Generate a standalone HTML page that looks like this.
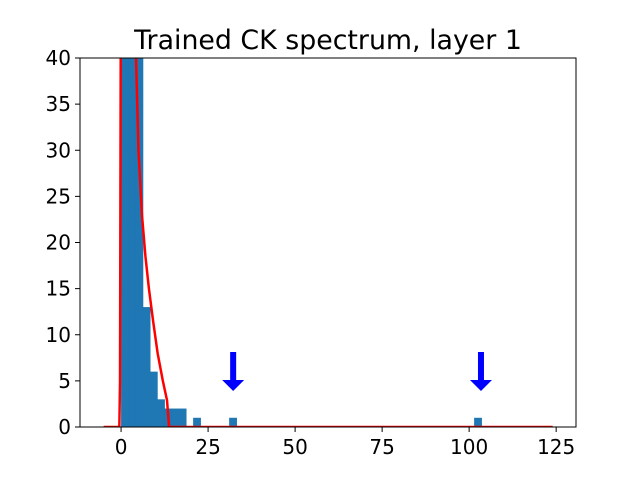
<!DOCTYPE html>
<html><head><meta charset="utf-8"><style>
body{margin:0;background:#fff;}
text{font-family:"DejaVu Sans","Liberation Sans",sans-serif;}
</style></head><body>
<svg id="chart" width="640" height="480" xmlns="http://www.w3.org/2000/svg">
<text x="328" y="49" font-size="26.8" text-anchor="middle">Trained CK spectrum, layer 1</text>
<g id="plot"></g>
</svg>
<script>
const binStart = 0;
const binWidth = 2.07;
const binCounts = [60,60,60,13,6,3,2,2,2,0,1,0,0,0,0,1,0,0,0,0,0,0,0,0,0,0,0,0,0,0,0,0,0,0,0,0,0,0,0,0,0,0,0,0,0,0,0,0,0,1];
const curveX = [-5,-0.5,-0.3,0,4.3,5.0,6.0,7.0,8.0,9.2,10.5,12.0,13.2,13.8,14.2,124];
const curveY = [0,0,5,60,40,30,23,18.5,15,11.5,8,5,2.9,0,0,0];
const arrowX = [32.2,103.4];
const xTicks = [0,25,50,75,100,125];
const yTicks = [0,5,10,15,20,25,30,35,40];
const L=80,R=576,T=58,B=427;
const xmin=-11.8,xmax=130.7,ymin=0,ymax=40;
const sx=v=>L+(v-xmin)/(xmax-xmin)*(R-L);
const sy=v=>B-(v-ymin)/(ymax-ymin)*(B-T);
const NS='http://www.w3.org/2000/svg';
const g=document.getElementById('plot');
function mk(t,a){const e=document.createElementNS(NS,t);for(const k in a)e.setAttribute(k,a[k]);return e;}
const defs=mk('defs',{});const cp=mk('clipPath',{id:'c'});cp.appendChild(mk('rect',{x:L,y:T,width:R-L,height:B-T}));defs.appendChild(cp);g.appendChild(defs);
const bars=mk('g',{'clip-path':'url(#c)'});


binCounts.forEach((c,i)=>{if(!c)return;const x0=sx(binStart+i*binWidth),x1=sx(binStart+(i+1)*binWidth);
const r=mk('rect',{x:x0,y:sy(c),width:x1-x0+0.6,height:B-sy(c),fill:'#1f77b4'});


bars.appendChild(r);});
g.appendChild(bars);
const pts=curveX.map((x,i)=>sx(x)+','+sy(curveY[i])).join(' ');
const line=mk('polyline',{points:pts,fill:'none',stroke:'red','stroke-width':2.5,'clip-path':'url(#c)'});


g.appendChild(line);
arrowX.forEach(a=>{const x=sx(a);
const p=mk('path',{d:`M${x-3},352 L${x+3},352 L${x+3},380 L${x+11},380 L${x},391 L${x-11},380 L${x-3},380 Z`,fill:'blue'});


g.appendChild(p);});
const fr=mk('rect',{x:L,y:T,width:R-L,height:B-T,fill:'none',stroke:'#000','stroke-width':1});


g.appendChild(fr);
xTicks.forEach(t=>{const x=sx(t);g.appendChild(mk('line',{x1:x,x2:x,y1:B,y2:B+5,stroke:'#000'}));
const tx=mk('text',{x:x,y:B+27,'font-size':20,'text-anchor':'middle'});tx.textContent=t;


g.appendChild(tx);});
yTicks.forEach(t=>{const y=sy(t);g.appendChild(mk('line',{x1:L-5,x2:L,y1:y,y2:y,stroke:'#000'}));
const tx=mk('text',{x:L-9,y:y+7,'font-size':20,'text-anchor':'end'});tx.textContent=t;


g.appendChild(tx);});
</script>
</body></html>
